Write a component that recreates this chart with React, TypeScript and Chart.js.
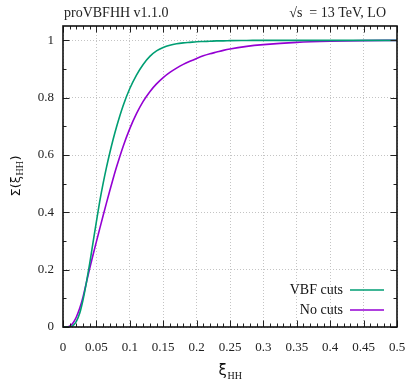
import React, { useEffect, useRef } from 'react';
import { Chart, registerables } from 'chart.js';

Chart.register(...registerables);

const xValues = [0, 0.005, 0.01, 0.015, 0.02, 0.025, 0.03, 0.035, 0.04, 0.045, 0.05, 0.055, 0.06, 0.065, 0.07, 0.075, 0.08, 0.09, 0.1, 0.11, 0.12, 0.13, 0.14, 0.15, 0.16, 0.17, 0.18, 0.19, 0.2, 0.21, 0.22, 0.23, 0.24, 0.25, 0.275, 0.3, 0.35, 0.4, 0.45, 0.5];
const vbfCuts = [0, 0, 0, 0.005, 0.02, 0.048, 0.095, 0.155, 0.222, 0.295, 0.368, 0.438, 0.5, 0.556, 0.607, 0.654, 0.697, 0.772, 0.832, 0.879, 0.916, 0.944, 0.963, 0.975, 0.983, 0.988, 0.991, 0.993, 0.995, 0.996, 0.997, 0.998, 0.998, 0.999, 0.9995, 1, 1, 1, 1, 1];
const noCuts = [0, 0, 0.003, 0.014, 0.035, 0.065, 0.105, 0.155, 0.205, 0.252, 0.298, 0.343, 0.388, 0.432, 0.475, 0.517, 0.557, 0.63, 0.692, 0.744, 0.787, 0.821, 0.848, 0.87, 0.888, 0.903, 0.916, 0.927, 0.937, 0.946, 0.953, 0.959, 0.965, 0.97, 0.979, 0.985, 0.993, 0.997, 0.999, 1];

const seriesLabels = ['VBF cuts', 'No cuts'];
const seriesColors = ['#009e73', '#9400d3'];

const xTicks = [0, 0.05, 0.1, 0.15, 0.2, 0.25, 0.3, 0.35, 0.4, 0.45, 0.5];
const xTickLabels = ['0', '0.05', '0.1', '0.15', '0.2', '0.25', '0.3', '0.35', '0.4', '0.45', '0.5'];
const yTicks = [0, 0.2, 0.4, 0.6, 0.8, 1];
const yTickLabels = ['0', '0.2', '0.4', '0.6', '0.8', '1'];

const titleLeft = 'proVBFHH v1.1.0';
const titleRight = '√s  = 13 TeV, LO';

const SERIF = '"Liberation Serif", serif';
const SANS = '"DejaVu Sans", sans-serif';

const framePlugin = {
  id: 'framePlugin',
  afterDatasetsDraw(chart: any) {
    const ctx = chart.ctx as CanvasRenderingContext2D;
    const { left, right, top, bottom } = chart.chartArea;
    const xs = chart.scales.x;
    const ys = chart.scales.y;
    ctx.save();
    // ticks (inward, all sides)
    ctx.strokeStyle = '#222';
    ctx.lineWidth = 1;
    ctx.beginPath();
    const xMin = xs.min, xMax = xs.max;
    for (let i = 0; i <= 50; i++) {
      const v = xMin + (i * (xMax - xMin)) / 50;
      const major = i % 5 === 0;
      const len = major ? 6.5 : 3.5;
      const px = Math.round(xs.getPixelForValue(v)) + 0.5;
      ctx.moveTo(px, bottom);
      ctx.lineTo(px, bottom - len);
      ctx.moveTo(px, top);
      ctx.lineTo(px, top + len);
    }
    for (let i = 0; i <= 10; i++) {
      const v = i * 0.1;
      const major = i % 2 === 0;
      const len = major ? 6.5 : 3.5;
      const py = Math.round(ys.getPixelForValue(v)) + 0.5;
      ctx.moveTo(left, py);
      ctx.lineTo(left + len, py);
      ctx.moveTo(right, py);
      ctx.lineTo(right - len, py);
    }
    ctx.stroke();
    // frame
    ctx.strokeStyle = '#111';
    ctx.lineWidth = 1.6;
    ctx.strokeRect(left, top, right - left, bottom - top);

    // legend
    ctx.font = `14px ${SERIF}`;
    ctx.textBaseline = 'middle';
    ctx.textAlign = 'right';
    chart.data.datasets.forEach((ds: any, i: number) => {
      const y = bottom - 37 + i * 20;
      ctx.fillStyle = '#111';
      ctx.fillText(ds.label, right - 54, y);
      ctx.strokeStyle = ds.borderColor;
      ctx.lineWidth = 1.6;
      ctx.beginPath();
      ctx.moveTo(right - 47, y);
      ctx.lineTo(right - 13, y);
      ctx.stroke();
    });

    // top titles
    ctx.fillStyle = '#222';
    ctx.textBaseline = 'alphabetic';
    ctx.textAlign = 'left';
    ctx.font = `14px ${SERIF}`;
    ctx.fillText(titleLeft, left + 1, 17);
    ctx.textAlign = 'right';
    ctx.fillText(titleRight, right - 11, 17);

    // x axis title: ξ_HH
    ctx.fillStyle = '#111';
    ctx.textAlign = 'left';
    ctx.font = `15px ${SANS}`;
    const wXi = ctx.measureText('ξ').width;
    ctx.font = `10px ${SERIF}`;
    const wHH = ctx.measureText('HH').width;
    const cx = (left + right) / 2;
    const sx = cx - (wXi + wHH) / 2;
    ctx.font = `15px ${SANS}`;
    ctx.fillText('ξ', sx, 375);
    ctx.font = `10px ${SERIF}`;
    ctx.fillText('HH', sx + wXi + 0.5, 379);

    // y axis title: Σ(ξ_HH)
    ctx.save();
    const cy = (top + bottom) / 2;
    ctx.translate(19.5, cy);
    ctx.rotate(-Math.PI / 2);
    ctx.font = `13px ${SANS}`;
    const wA = ctx.measureText('Σ(ξ').width;
    const wC = ctx.measureText(')').width;
    ctx.font = `10px ${SERIF}`;
    const wB = ctx.measureText('HH').width;
    const tx = -(wA + wB + wC) / 2;
    ctx.font = `13px ${SANS}`;
    ctx.fillText('Σ(ξ', tx, 0);
    ctx.font = `10px ${SERIF}`;
    ctx.fillText('HH', tx + wA + 0.5, 3);
    ctx.font = `13px ${SANS}`;
    ctx.fillText(')', tx + wA + wB + 1, 0);
    ctx.restore();

    ctx.restore();
  },
};

export default function App() {
  const ref = useRef<HTMLCanvasElement | null>(null);
  useEffect(() => {
    document.body.style.margin = '0';
    const canvas = ref.current;
    if (!canvas) return;
    const chart = new Chart(canvas, {
      type: 'line',
      data: {
        datasets: [
          {
            label: seriesLabels[0],
            data: xValues.map((x, i) => ({ x, y: vbfCuts[i] })),
            borderColor: seriesColors[0],
            backgroundColor: seriesColors[0],
            borderWidth: 1.6,
            pointRadius: 0,
            cubicInterpolationMode: 'monotone',
            fill: false,
          },
          {
            label: seriesLabels[1],
            data: xValues.map((x, i) => ({ x, y: noCuts[i] })),
            borderColor: seriesColors[1],
            backgroundColor: seriesColors[1],
            borderWidth: 1.6,
            pointRadius: 0,
            cubicInterpolationMode: 'monotone',
            fill: false,
          },
        ],
      },
      options: {
        animation: false,
        responsive: false,
        devicePixelRatio: 1,
        layout: { padding: { top: 26, right: 10, left: 0, bottom: 0 } },
        plugins: {
          legend: { display: false },
          tooltip: { enabled: false },
          title: { display: false },
        },
        scales: {
          x: {
            type: 'linear',
            min: 0,
            max: 0.5,
            afterFit: (s: any) => { s.height = 54; s.paddingLeft = 0; s.paddingRight = 0; },
            afterBuildTicks: (s: any) => { s.ticks = xTicks.map((v) => ({ value: v })); },
            ticks: {
              callback: (_v: any, i: number) => xTickLabels[i],
              font: { family: SERIF, size: 13 },
              color: '#222',
              padding: 13,
              maxRotation: 0,
              autoSkip: false,
            },
            grid: { color: '#c4c4c4', lineWidth: 1, drawTicks: false },
            border: { display: false, dash: [1, 2] },
          },
          y: {
            type: 'linear',
            min: 0,
            max: 1.05,
            afterFit: (s: any) => { s.width = 63; s.paddingTop = 0; s.paddingBottom = 0; },
            afterBuildTicks: (s: any) => { s.ticks = yTicks.map((v) => ({ value: v })); },
            ticks: {
              callback: (_v: any, i: number) => yTickLabels[i],
              font: { family: SERIF, size: 13 },
              color: '#222',
              padding: 9,
              autoSkip: false,
            },
            grid: { color: '#c4c4c4', lineWidth: 1, drawTicks: false },
            border: { display: false, dash: [1, 2] },
          },
        },
      } as any,
      plugins: [framePlugin],
    });
    return () => chart.destroy();
  }, []);
  return (
    <div style={{ position: 'absolute', left: 0, top: 0, width: 407, height: 381 }}>
      <canvas ref={ref} width={407} height={381} style={{ width: 407, height: 381 }} />
    </div>
  );
}
